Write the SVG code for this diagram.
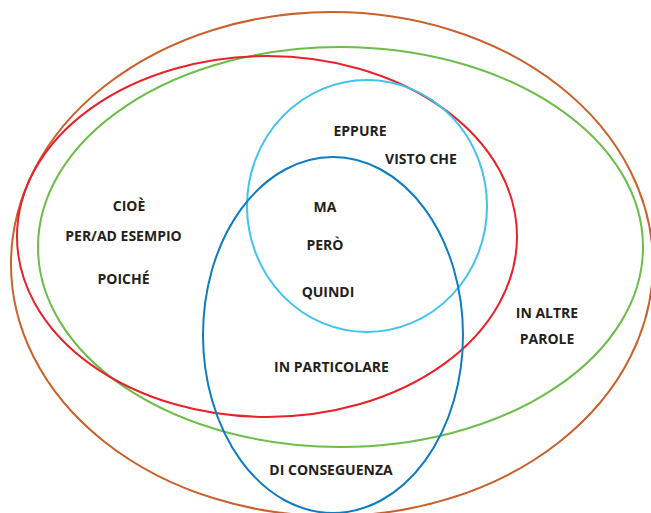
<svg xmlns="http://www.w3.org/2000/svg" width="651" height="513" viewBox="0 0 651 513">
<style>
.e{fill:none;stroke-width:2}
text{font-family:"Open Sans","Noto Sans","Liberation Sans",sans-serif;font-weight:bold;font-size:14px;fill:#231f20;text-anchor:middle}
</style>
<rect width="651" height="513" fill="#ffffff"/>
<g id="sets">
<ellipse id="orange" class="e" cx="332" cy="264" rx="321" ry="252" stroke="#c9612c"/>
<ellipse id="green" class="e" cx="340.5" cy="247" rx="302.5" ry="200" stroke="#6dbd4a"/>
<ellipse id="red" class="e" cx="267" cy="236.5" rx="250" ry="180.5" stroke="#e8222a"/>
<ellipse id="lightblue" class="e" cx="367" cy="206" rx="120" ry="126" stroke="#40c4ee"/>
<ellipse id="blue" class="e" cx="333" cy="335" rx="130" ry="178" stroke="#0c7cc3"/>
</g>
<g id="labels">
<text x="360" y="136">EPPURE</text>
<text x="421" y="164">VISTO CHE</text>
<text x="325" y="212">MA</text>
<text x="325" y="250">PERÒ</text>
<text x="328" y="297">QUINDI</text>
<text x="129" y="211">CIOÈ</text>
<text x="123.5" y="241">PER/AD ESEMPIO</text>
<text x="123.5" y="284">POICHÉ</text>
<text x="547" y="318">IN ALTRE</text>
<text x="547" y="344">PAROLE</text>
<text x="331.5" y="372">IN PARTICOLARE</text>
<text x="331" y="475">DI CONSEGUENZA</text>
</g>
</svg>
